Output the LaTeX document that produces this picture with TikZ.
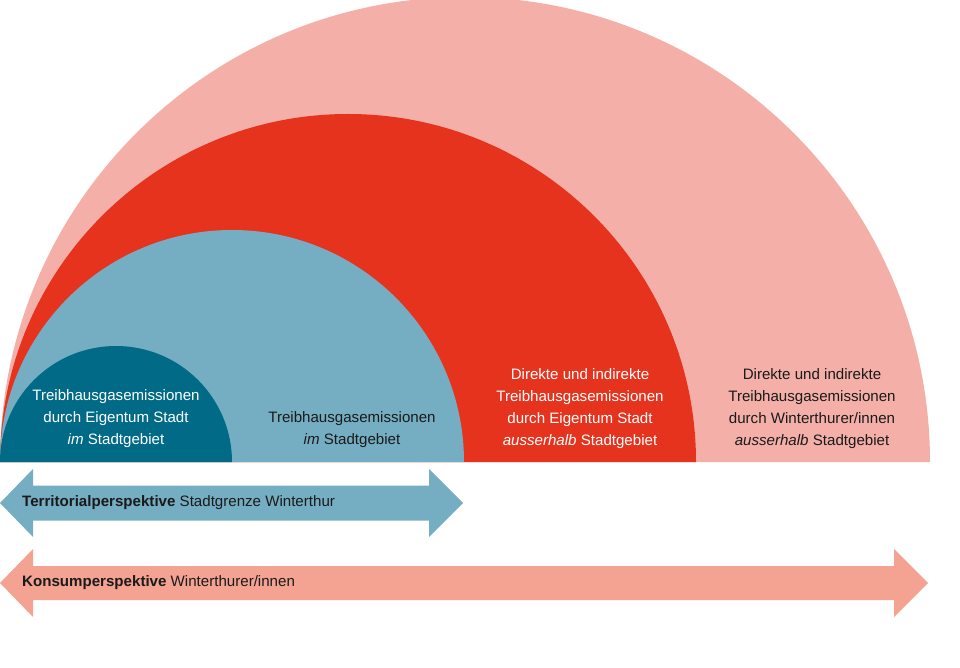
\documentclass[tikz,border=0pt]{standalone}
\usepackage{fontspec}
\setmainfont{Liberation Sans}
\definecolor{hellrot}{HTML}{F4B0A8}
\definecolor{rot}{HTML}{E5331E}
\definecolor{hellblau}{HTML}{75AEC3}
\definecolor{dunkelblau}{HTML}{006A87}
\definecolor{lachs}{HTML}{F4A292}
\definecolor{schrift}{HTML}{1A1A1A}

\tikzset{
  feld/.style={align=center, font=\fontsize{15.1}{22}\selectfont, inner sep=0pt},
  pfeiltext/.style={anchor=west, font=\fontsize{15.1}{17}\selectfont, text=schrift, inner sep=0pt}
}

\begin{document}
\begin{tikzpicture}[x=1pt,y=1pt]
  \useasboundingbox (0,0) rectangle (960,667);
  % Halbkreise
  \fill[hellrot]    (0,205) arc (180:0:465) -- cycle;
  \fill[rot]        (0,205) arc (180:0:348) -- cycle;
  \fill[hellblau]   (0,205) arc (180:0:232) -- cycle;
  \fill[dunkelblau] (0,205) arc (180:0:116) -- cycle;

  \node[feld, text=white]   (Eig)  at (116,248) {Treibhausgasemissionen\\durch Eigentum Stadt\\\textit{im} Stadtgebiet};
  \node[feld, text=schrift] (Geb)  at (352,237) {Treibhausgasemissionen\\\textit{im} Stadtgebiet};
  \node[feld, text=white]   (EigA) at (580,258) {Direkte und indirekte\\Treibhausgasemissionen\\durch Eigentum Stadt\\\textit{ausserhalb} Stadtgebiet};
  \node[feld, text=schrift] (WinA) at (812,258) {Direkte und indirekte\\Treibhausgasemissionen\\durch Winterthurer/innen\\\textit{ausserhalb} Stadtgebiet};

  % Pfeile
  \fill[hellblau] (0,164) -- (33,198) -- (33,181.5) -- (429,181.5) -- (429,198) -- (463,164)
    -- (429,130) -- (429,146.5) -- (33,146.5) -- (33,130) -- cycle;
  \fill[lachs] (0,84) -- (33,118) -- (33,101) -- (894,101) -- (894,118) -- (928,84)
    -- (894,50) -- (894,67) -- (33,67) -- (33,50) -- cycle;

  \node[pfeiltext] (Ter) at (22,164) {\textbf{Territorialperspektive} Stadtgrenze Winterthur};
  \node[pfeiltext] (Kon) at (22,84) {\textbf{Konsumperspektive} Winterthurer/innen};
\end{tikzpicture}
\end{document}
